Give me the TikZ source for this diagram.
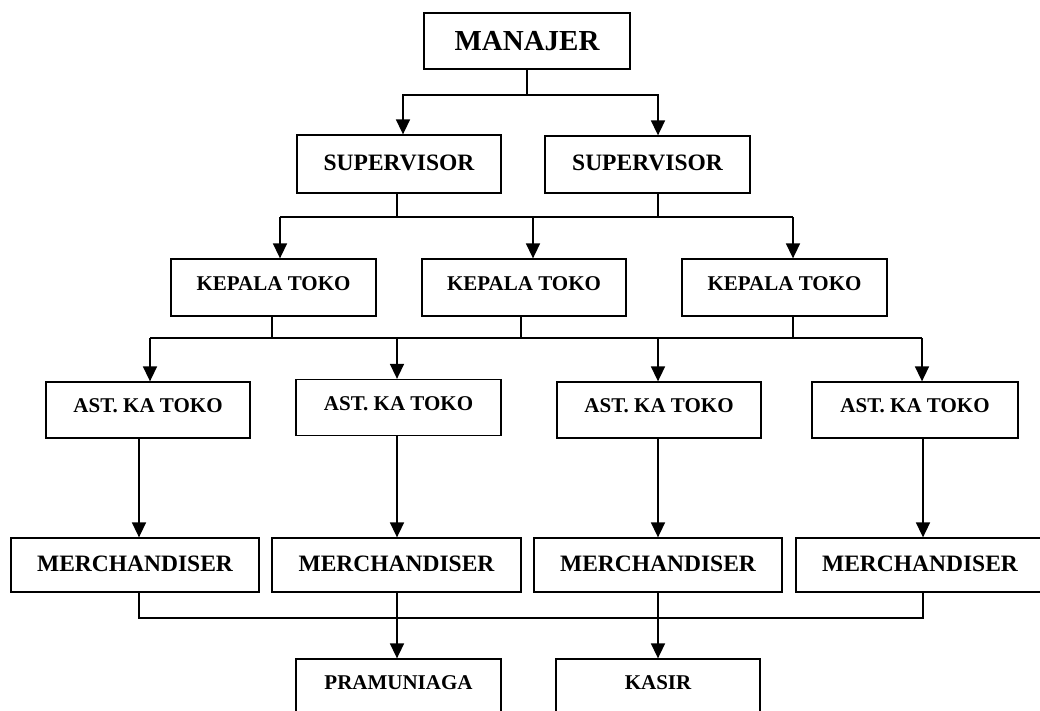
\documentclass[tikz,border=0pt]{standalone}
\usepackage{fontspec}
\setmainfont{Liberation Serif}
\usetikzlibrary{arrows.meta}

\tikzset{
  jabatan/.style={draw, line width=1.3pt, rectangle, inner sep=0pt, minimum height=56pt, text depth=8pt, font=\bfseries\fontsize{21}{24}\selectfont},
  besar/.style={text depth=3pt, font=\bfseries\fontsize{23.5}{27}\selectfont},
  garis/.style={line width=1.6pt},
  panah/.style={line width=1.6pt, -{Triangle[length=15pt,width=14pt]}}
}

\begin{document}
\begin{tikzpicture}[x=1pt, y=-1pt]
            \useasboundingbox (0,0) rectangle (1040,710);
            \clip (0,0) rectangle (1040,710);

            % Manajer dan supervisor
            \node[jabatan, minimum width=206pt, text depth=0pt, font=\bfseries\fontsize{29}{33}\selectfont] (man) at (527,41) {MANAJER};
            \node[jabatan, besar, minimum width=204pt, minimum height=58pt] (sup1) at (399,164) {SUPERVISOR};
            \node[jabatan, besar, minimum width=205pt, minimum height=57pt] (sup2) at (647.5,164.5) {SUPERVISOR};

            % Kepala toko
            \node[jabatan, minimum width=205pt, minimum height=57pt] (kep1) at (273.5,287.5) {KEPALA TOKO};
            \node[jabatan, minimum width=204pt, minimum height=57pt] (kep2) at (524,287.5) {KEPALA TOKO};
            \node[jabatan, minimum width=205pt, minimum height=57pt] (kep3) at (784.5,287.5) {KEPALA TOKO};

            % Asisten kepala toko
            \node[jabatan, minimum width=204pt] (ast1) at (148,410) {AST. KA TOKO};
            \node[jabatan, minimum width=205pt] (ast2) at (398.5,407.5) {AST. KA TOKO};
            \node[jabatan, minimum width=204pt] (ast3) at (659,410) {AST. KA TOKO};
            \node[jabatan, minimum width=206pt] (ast4) at (915,410) {AST. KA TOKO};

            % Merchandiser
            \node[jabatan, besar, minimum width=248pt, minimum height=54pt] (mer1) at (135,565) {MERCHANDISER};
            \node[jabatan, besar, minimum width=249pt, minimum height=54pt] (mer2) at (396.5,565) {MERCHANDISER};
            \node[jabatan, besar, minimum width=248pt, minimum height=54pt] (mer3) at (658,565) {MERCHANDISER};
            \node[jabatan, besar, minimum width=248pt, minimum height=54pt] (mer4) at (920,565) {MERCHANDISER};

            % Pramuniaga dan kasir
            \node[jabatan, minimum width=205pt] (pram) at (398.5,687) {PRAMUNIAGA};
            \node[jabatan, minimum width=204pt] (kas) at (658,687) {KASIR};

            % Baris garis penghubung
            \coordinate (r1) at (0,95);
            \coordinate (r2) at (0,217);
            \coordinate (r3) at (0,338);
            \coordinate (r4) at (0,618);

            % Manajer ke supervisor
            \draw[garis] (man.south) -- (man.south |- r1);
            \draw[panah] (man.south |- r1) -| ([xshift=-124pt]man.south |- sup1.north);
            \draw[panah] (man.south |- r1) -| ([xshift=131pt]man.south |- sup2.north);

            % Supervisor ke kepala toko
            \draw[garis] ([xshift=-2pt]sup1.south) -- ([xshift=-2pt]sup1.south |- r2);
            \draw[garis] ([xshift=10.5pt]sup2.south) -- ([xshift=10.5pt]sup2.south |- r2);
            \draw[garis] ([xshift=6.5pt]kep1.north |- r2) -- ([xshift=8.5pt]kep3.north |- r2);
            \draw[panah] ([xshift=6.5pt]kep1.north |- r2) -- ([xshift=6.5pt]kep1.north);
            \draw[panah] ([xshift=9pt]kep2.north |- r2) -- ([xshift=9pt]kep2.north);
            \draw[panah] ([xshift=8.5pt]kep3.north |- r2) -- ([xshift=8.5pt]kep3.north);

            % Kepala toko ke asisten
            \draw[garis] ([xshift=-1.5pt]kep1.south) -- ([xshift=-1.5pt]kep1.south |- r3);
            \draw[garis] ([xshift=-3pt]kep2.south) -- ([xshift=-3pt]kep2.south |- r3);
            \draw[garis] ([xshift=8.5pt]kep3.south) -- ([xshift=8.5pt]kep3.south |- r3);
            \draw[garis] ([xshift=2pt]ast1.north |- r3) -- ([xshift=7pt]ast4.north |- r3);
            \draw[panah] ([xshift=2pt]ast1.north |- r3) -- ([xshift=2pt]ast1.north);
            \draw[panah] ([xshift=-1.5pt]ast2.north |- r3) -- ([xshift=-1.5pt]ast2.north);
            \draw[panah] ([xshift=-1pt]ast3.north |- r3) -- ([xshift=-1pt]ast3.north);
            \draw[panah] ([xshift=7pt]ast4.north |- r3) -- ([xshift=7pt]ast4.north);

            % Asisten ke merchandiser
            \draw[panah] ([xshift=4pt]mer1.north |- ast1.south) -- ([xshift=4pt]mer1.north);
            \draw[panah] ([xshift=0.5pt]mer2.north |- ast2.south) -- ([xshift=0.5pt]mer2.north);
            \draw[panah] (mer3.north |- ast3.south) -- (mer3.north);
            \draw[panah] ([xshift=3pt]mer4.north |- ast4.south) -- ([xshift=3pt]mer4.north);

            % Merchandiser ke pramuniaga dan kasir
            \draw[garis] ([xshift=4pt]mer1.south) |- ([xshift=3pt]mer4.south |- r4) -- ([xshift=3pt]mer4.south);
            \draw[garis] ([xshift=0.5pt]mer2.south) -- ([xshift=0.5pt]mer2.south |- r4);
            \draw[garis] (mer3.south) -- (mer3.south |- r4);
            \draw[panah] ([xshift=0.5pt]mer2.south |- r4) -- ([xshift=0.5pt]mer2.south |- pram.north);
            \draw[panah] (kas.north |- r4) -- (kas.north);

\end{tikzpicture}
\end{document}
